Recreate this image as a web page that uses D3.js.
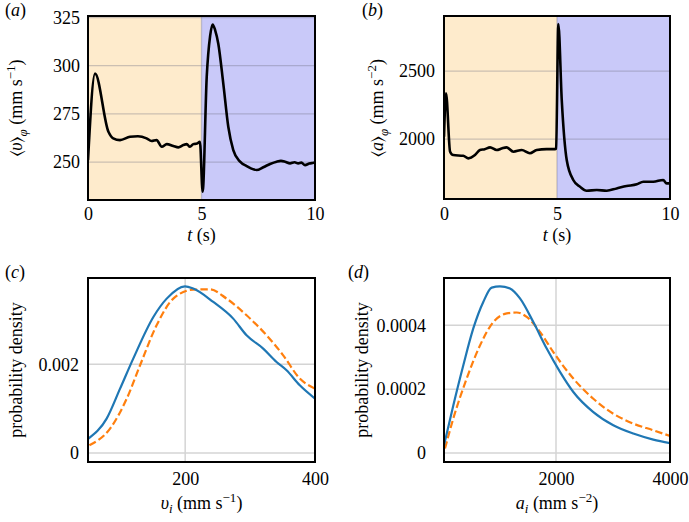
<!DOCTYPE html>
<html>
<head>
<meta charset="utf-8">
<script src="https://cdn.jsdelivr.net/npm/d3@7"></script>
<style>
  html, body { margin: 0; padding: 0; background: #fff; }
  svg { display: block; }
  svg text { font-family: "Liberation Serif", "LiberationSerif", Tinos, "Noto Serif", "Nimbus Roman", "Nimbus Roman No9 L", FreeSerif, "Times New Roman", Times, "DejaVu Serif", serif !important; fill: #000; }
</style>
</head>
<body>
<svg id="chart" width="689" height="522"></svg>
<script>
// ---------------- DATA ----------------
// Panel (a): mean speed vs time
const timeA  = [0, 0.31, 0.9, 1.11, 1.41, 1.85, 2.2, 2.58, 2.8, 3.02, 3.25, 3.47, 3.76, 3.98, 4.2, 4.35, 4.49, 4.64, 4.8, 4.93, 5.05, 5.23, 5.38, 5.49, 5.6, 5.74, 5.96, 6.18, 6.4, 6.7, 6.99, 7.2, 7.43, 7.72, 8.02, 8.31, 8.5, 8.68, 8.9, 9.1, 9.26, 9.4, 9.56, 9.75, 9.93, 10];
const speedA = [251, 295.9, 265.7, 262.3, 261.4, 263.1, 263.4, 262.3, 260.9, 261.4, 257.9, 259.3, 258.3, 257.6, 258.8, 259.3, 257.9, 259.3, 259.6, 260.5, 234.6, 294.2, 315.5, 321.4, 318.5, 311.4, 290.7, 268.3, 256.2, 250.2, 247.9, 246.6, 245.9, 247.3, 249.0, 250.2, 250.6, 250.2, 249.3, 249.9, 249.3, 249.7, 248.4, 249.2, 249.6, 249.8];

// Panel (b): mean acceleration vs time
const timeB  = [0, 0.09, 0.27, 0.41, 0.85, 1.08, 1.37, 1.59, 1.8, 2.04, 2.33, 2.55, 2.77, 3.07, 3.44, 3.8, 4.1, 4.54, 4.91, 4.96, 5.06, 5.21, 5.43, 5.72, 6.02, 6.31, 6.76, 7.2, 7.64, 8.08, 8.53, 8.82, 9.26, 9.7, 9.85, 10];
const accB   = [2017, 2336, 1907, 1882, 1877, 1858, 1882, 1919, 1925, 1939, 1919, 1930, 1939, 1907, 1919, 1895, 1919, 1926, 1926, 1930, 2846, 2287, 1846, 1699, 1649, 1620, 1625, 1620, 1637, 1654, 1667, 1686, 1686, 1699, 1674, 1674];

// Panel (c): speed probability density
const speedBlue   = [51, 79, 99.7, 120, 151, 171.5, 199.7, 212.5, 243.3, 274, 294.6, 320.2, 340.8, 356.2, 376.6, 400];
const densBlueC   = [0.000325, 0.000776, 0.001452, 0.002128, 0.003067, 0.003481, 0.003759, 0.003707, 0.003405, 0.00303, 0.002654, 0.002354, 0.002052, 0.001865, 0.001526, 0.001227];
const speedOrange = [52.5, 84.3, 110, 130.5, 156, 181.7, 212.5, 238, 263.8, 294.6, 325.4, 351, 376.6, 400];
const densOrangeC = [0.000174, 0.00055, 0.001227, 0.001978, 0.00288, 0.003481, 0.003684, 0.003691, 0.003481, 0.003105, 0.002654, 0.002203, 0.001678, 0.001452];

// Panel (d): acceleration probability density
const accBlue     = [35, 198, 374, 549, 724, 872, 1017, 1193, 1368, 1602, 1837, 2070, 2304, 2655, 3005, 3356, 3707, 4000];
const densBlueD   = [0.0000241, 0.000149, 0.000275, 0.00039, 0.000473, 0.000518, 0.000522, 0.000515, 0.000484, 0.00041, 0.000327, 0.000254, 0.000191, 0.000128, 0.0000868, 0.0000608, 0.000042, 0.000031];
const accOrange   = [52, 198, 433, 667, 900, 1135, 1310, 1486, 1719, 1953, 2304, 2655, 3005, 3356, 3707, 4000];
const densOrangeD = [0.0000138, 0.000108, 0.000233, 0.000337, 0.00041, 0.000437, 0.00044, 0.000426, 0.000379, 0.000316, 0.000233, 0.00017, 0.000123, 0.0000921, 0.0000711, 0.0000532];

// Tick labels
const ticksTimeX = [0, 5, 10];
const ticksA_Y   = [250, 275, 300, 325];
const ticksB_Y   = [2000, 2500];
const ticksC_X   = [200, 400];
const ticksC_Y   = [0, 0.002];
const ticksD_X   = [2000, 4000];
const ticksD_Y   = [0, 0.0002, 0.0004];

// Shaded phases
const phases = [{from: 0, to: 5, color: "#feebcc"}, {from: 5, to: 10, color: "#c9c9f9"}];

// ---------------- DRAW ----------------
const svg = d3.select("#chart");
const FS = 18;
const SERIF = '"Liberation Serif", Tinos, "Noto Serif", FreeSerif, "Times New Roman", Times, "DejaVu Serif", serif';

function panel(opt) {
  const g = svg.append("g");
  const x = d3.scaleLinear().domain(opt.xd).range([opt.l, opt.r]);
  const y = d3.scaleLinear().domain(opt.yd).range([opt.b, opt.t]);
  const cid = "clip" + opt.id;
  svg.append("clipPath").attr("id", cid).append("rect")
    .attr("x", opt.l).attr("y", opt.t).attr("width", opt.r - opt.l).attr("height", opt.b - opt.t);
  const inner = g.append("g").attr("clip-path", `url(#${cid})`);
  if (opt.phases) {
    inner.selectAll("rect.ph").data(opt.phases).join("rect")
      .attr("x", d => x(d.from)).attr("width", d => x(d.to) - x(d.from))
      .attr("y", opt.t).attr("height", opt.b - opt.t).attr("fill", d => d.color);
  }
  inner.selectAll("line.gy").data(opt.gridY).join("line")
    .attr("x1", opt.l).attr("x2", opt.r).attr("y1", d => y(d)).attr("y2", d => y(d))
    .attr("stroke", opt.gridColor).attr("stroke-width", opt.gridW);
  inner.selectAll("line.gx").data(opt.gridX).join("line")
    .attr("y1", opt.t).attr("y2", opt.b).attr("x1", d => x(d)).attr("x2", d => x(d))
    .attr("stroke", opt.gridColor).attr("stroke-width", opt.gridW);
  opt.series.forEach(s => {
    const pts = s.xs.map((v, i) => [v, s.ys[i]]);
    inner.append("path").datum(pts)
      .attr("d", d3.line().x(d => x(d[0])).y(d => y(d[1])).curve(d3.curveMonotoneX))
      .attr("fill", "none").attr("stroke", s.color).attr("stroke-width", s.w)
      .attr("stroke-linejoin", "round")
      .attr("stroke-dasharray", s.dash || null);
  });
  g.append("rect").attr("x", opt.l).attr("y", opt.t).attr("width", opt.r - opt.l).attr("height", opt.b - opt.t)
    .attr("fill", "none").attr("stroke", "#000").attr("stroke-width", 2);
  const ax = g.append("g").attr("transform", `translate(0,${opt.b})`)
    .call(d3.axisBottom(x).tickValues(opt.ticksX).tickSize(0).tickPadding(opt.xPad).tickFormat(d => String(d)));
  const ay = g.append("g").attr("transform", `translate(${opt.l},0)`)
    .call(d3.axisLeft(y).tickValues(opt.ticksY).tickSize(0).tickPadding(opt.yPad).tickFormat(d => String(d)));
  [ax, ay].forEach(a => {
    a.attr("font-family", SERIF).attr("font-size", FS);
    a.select(".domain").remove();
    a.selectAll("text").attr("font-family", SERIF).attr("font-size", FS).attr("fill", "#000");
  });
  const pl = g.append("text").attr("x", opt.letterX).attr("y", opt.letterY).attr("font-size", FS).attr("font-family", SERIF);
  pl.append("tspan").text("(");
  pl.append("tspan").attr("font-style", "italic").text(opt.letter);
  pl.append("tspan").text(")");
  return {g, x, y};
}

function richText(sel, parts) {
  parts.forEach(p => {
    const t = sel.append("tspan").text(p.t);
    if (p.i) t.attr("font-style", "italic");
    if (p.dy) t.attr("dy", p.dy);
    if (p.fs) t.attr("font-size", p.fs);
  });
}

panel({id: "a", l: 88, r: 315, t: 16, b: 200, xd: [0, 10], yd: [230.3, 325.8],
  phases: phases, gridX: [0, 5, 10], gridY: ticksA_Y, gridColor: "rgba(110,110,130,0.35)", gridW: 1.3,
  ticksX: ticksTimeX, ticksY: ticksA_Y, xPad: 7, yPad: 8,
  series: [{xs: timeA, ys: speedA, color: "#000", w: 2.6}],
  letter: "a", letterX: 5, letterY: 16});
panel({id: "b", l: 444, r: 670, t: 16, b: 199, xd: [0, 10], yd: [1559, 2905],
  phases: phases, gridX: [0, 5, 10], gridY: ticksB_Y, gridColor: "rgba(110,110,130,0.35)", gridW: 1.3,
  ticksX: ticksTimeX, ticksY: ticksB_Y, xPad: 8, yPad: 9,
  series: [{xs: timeB, ys: accB, color: "#000", w: 2.6}],
  letter: "b", letterX: 362, letterY: 16});
panel({id: "c", l: 88, r: 315, t: 278, b: 462, xd: [50.3, 400], yd: [-0.000203, 0.003946],
  gridX: ticksC_X, gridY: ticksC_Y, gridColor: "#d4d4d4", gridW: 1.5,
  ticksX: ticksC_X, ticksY: ticksC_Y, xPad: 10, yPad: 9,
  series: [{xs: speedOrange, ys: densOrangeC, color: "#ff7f0e", w: 2.2, dash: "7.4,3.2"},
           {xs: speedBlue, ys: densBlueC, color: "#1f77b4", w: 2.2}],
  letter: "c", letterX: 5, letterY: 278});
panel({id: "d", l: 444, r: 670, t: 278, b: 462, xd: [35, 4000], yd: [-0.0000282, 0.000548],
  gridX: ticksD_X, gridY: ticksD_Y, gridColor: "#d4d4d4", gridW: 1.5,
  ticksX: ticksD_X, ticksY: ticksD_Y, xPad: 10, yPad: 18,
  series: [{xs: accOrange, ys: densOrangeD, color: "#ff7f0e", w: 2.2, dash: "7.4,3.2"},
           {xs: accBlue, ys: densBlueD, color: "#1f77b4", w: 2.2}],
  letter: "d", letterX: 348, letterY: 278});

function xLabel(cx, y, parts) {
  const t = svg.append("text").attr("x", cx).attr("y", y).attr("text-anchor", "middle").attr("font-size", FS).attr("font-family", SERIF);
  richText(t, parts);
}
function yLabel(x, cy, parts) {
  const t = svg.append("text").attr("transform", `translate(${x},${cy}) rotate(-90)`)
    .attr("text-anchor", "middle").attr("font-size", FS).attr("font-family", SERIF);
  richText(t, parts);
}
xLabel(201.5, 241, [{t: "t", i: true}, {t: " (s)"}]);
xLabel(557, 241, [{t: "t", i: true}, {t: " (s)"}]);
xLabel(201.5, 509, [{t: "υ", i: true}, {t: "i", i: true, dy: 4, fs: 13}, {t: " (mm s", dy: -4}, {t: "−1", dy: -7, fs: 13}, {t: ")", dy: 7}]);
xLabel(557, 509, [{t: "a", i: true}, {t: "i", i: true, dy: 4, fs: 13}, {t: " (mm s", dy: -4}, {t: "−2", dy: -7, fs: 13}, {t: ")", dy: 7}]);
yLabel(22, 108, [{t: "⟨"}, {t: "υ", i: true}, {t: "⟩"}, {t: "φ", i: true, dy: 5, fs: 13}, {t: " (mm s", dy: -5}, {t: "−1", dy: -7, fs: 13}, {t: ")", dy: 7}]);
yLabel(383, 108, [{t: "⟨"}, {t: "a", i: true}, {t: "⟩"}, {t: "φ", i: true, dy: 5, fs: 13}, {t: " (mm s", dy: -5}, {t: "−2", dy: -7, fs: 13}, {t: ")", dy: 7}]);
yLabel(22, 370, [{t: "probability density"}]);
yLabel(368, 370, [{t: "probability density"}]);
</script>
</body>
</html>
